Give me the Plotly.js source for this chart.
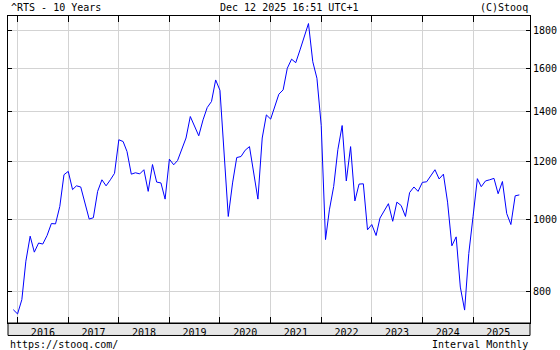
<!DOCTYPE html>
<html>
<head>
<meta charset="utf-8">
<script src="https://cdn.plot.ly/plotly-3.0.1.min.js"></script>
<style>html,body{margin:0;padding:0;background:#fff;}#chart{width:560px;height:350px;}</style>
</head>
<body>
<div id="chart"></div>
<script>
// Monthly closes of ^RTS, Dec 2015 .. Dec 2025
const startMonth = '2015-12';
const rtsValues = [
  756,
  746, 780, 879, 950, 904, 930, 927, 952, 988, 987, 1042, 1150,
  1162, 1098, 1111, 1107, 1051, 1002, 1006, 1092, 1132, 1111, 1132, 1155,
  1282, 1275, 1236, 1152, 1157, 1153, 1168, 1092, 1187, 1124, 1121, 1066,
  1207, 1186, 1202, 1249, 1289, 1378, 1336, 1298, 1364, 1417, 1444, 1544,
  1495, 1210, 1010, 1121, 1213, 1217, 1241, 1255, 1162, 1066, 1289, 1385,
  1367, 1429, 1477, 1497, 1601, 1647, 1629, 1695, 1772, 1840, 1634, 1552,
  1340, 940, 1031, 1109, 1243, 1340, 1128, 1255, 1060, 1117, 1118, 969,
  985, 952, 1005, 1028, 1051, 995, 1056, 1045, 1010, 1088, 1107, 1092,
  1123, 1125, 1145, 1168, 1135, 1152, 1056, 922, 948, 811, 755, 900,
  1010, 1136, 1108, 1128, 1132, 1137, 1084, 1126, 1019, 985, 1077, 1080
];
const yearLabels = ['2016','2017','2018','2019','2020','2021','2022','2023','2024','2025'];
const yTicks = [800, 1000, 1200, 1400, 1600, 1800];

// month dates for the x axis
const months = [];
{
  let y = +startMonth.slice(0,4), m = +startMonth.slice(5,7);
  for (let i = 0; i < rtsValues.length; i++) {
    months.push(y + '-' + String(m).padStart(2,'0') + '-01');
    m++; if (m > 12) { m = 1; y++; }
  }
}
const yearStarts = yearLabels.map(y => y + '-01-01');
const yearMids = yearLabels.map(y => y + '-07-02');

const FONT = 'DejaVu Sans Mono, monospace';
const trace = {
  x: months, y: rtsValues, type: 'scatter', mode: 'lines',
  line: {color: '#0000ff', width: 1}, hoverinfo: 'skip'
};

const layout = {
  width: 560, height: 350,
  margin: {l: 8, r: 30, t: 16, b: 26.5, pad: 0},
  paper_bgcolor: '#ffffff', plot_bgcolor: '#ffffff',
  showlegend: false,
  font: {family: FONT, size: 10, color: '#000'},
  xaxis: {
    type: 'date',
    range: ['2015-10-24', '2026-02-16'],
    tickmode: 'array', tickvals: yearMids, ticktext: yearLabels,
    ticks: '', showgrid: false, zeroline: false,
    showline: true, linecolor: '#000', linewidth: 1, mirror: 'ticks',
    tickfont: {family: FONT, size: 10, color: '#000'},
    minor: {tickmode: 'array', tickvals: yearStarts, ticks: 'inside', ticklen: 6,
            tickcolor: '#000', tickwidth: 1, showgrid: true, gridcolor: '#d3d3d3', gridwidth: 1},
    fixedrange: true
  },
  yaxis: {
    type: 'log', side: 'right',
    range: [Math.log10(725.3), Math.log10(1883.5)],
    tickmode: 'array', tickvals: yTicks, ticktext: yTicks.map(String),
    ticks: 'inside', ticklen: 4, tickcolor: '#000', tickwidth: 1,
    showgrid: true, gridcolor: '#d3d3d3', gridwidth: 1, zeroline: false,
    showline: true, linecolor: '#000', linewidth: 1, mirror: 'ticks',
    tickfont: {family: FONT, size: 10, color: '#000'},
    fixedrange: true
  },
  shapes: [{
    type: 'rect', xref: 'paper', yref: 'paper', layer: 'below',
    x0: 0, x1: 1, y0: -12.5/307.5, y1: 0,
    fillcolor: '#e6e6e6', line: {color: '#000', width: 1}
  }],
  annotations: [
    {text: '^RTS - 10 Years', xref: 'paper', yref: 'paper', x: 1/522, y: (323.5-7)/307.5,
     xanchor: 'left', yanchor: 'middle', showarrow: false, font: {family: FONT, size: 10}},
    {text: 'Dec 12 2025 16:51 UTC+1', xref: 'paper', yref: 'paper', x: 210/522, y: (323.5-7)/307.5,
     xanchor: 'left', yanchor: 'middle', showarrow: false, font: {family: FONT, size: 10}},
    {text: '(C)Stooq', xref: 'paper', yref: 'paper', x: 1, y: (323.5-7)/307.5,
     xanchor: 'right', yanchor: 'middle', showarrow: false, font: {family: FONT, size: 10}},
    {text: 'https://stooq.com/', xref: 'paper', yref: 'paper', x: 0, y: (323.5-345)/307.5,
     xanchor: 'left', yanchor: 'middle', showarrow: false, font: {family: FONT, size: 10}},
    {text: 'Interval Monthly', xref: 'paper', yref: 'paper', x: 1, y: (323.5-345)/307.5,
     xanchor: 'right', yanchor: 'middle', showarrow: false, font: {family: FONT, size: 10}}
  ]
};

Plotly.newPlot('chart', [trace], layout, {staticPlot: true, displayModeBar: false});
</script>
</body>
</html>
